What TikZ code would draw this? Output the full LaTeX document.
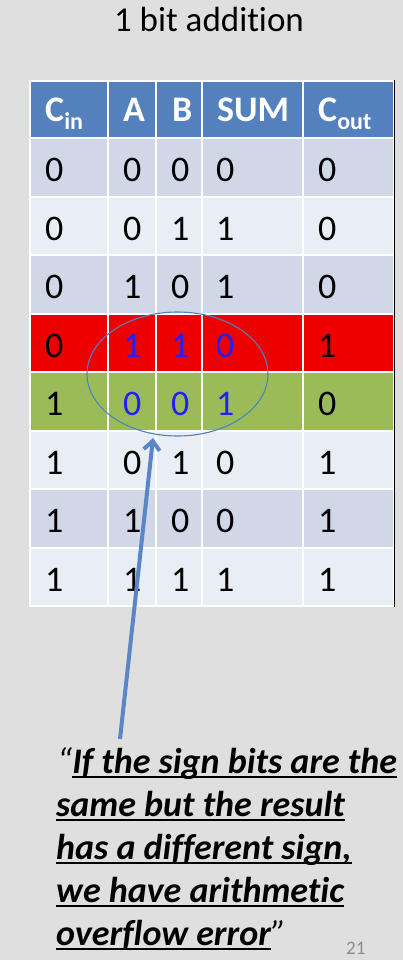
\documentclass[tikz,border=0pt]{standalone}
\usepackage{fontspec}
\setmainfont{Carlito}[Ligatures={NoCommon}]
\usetikzlibrary{arrows.meta,shapes.geometric}
\definecolor{bg}{HTML}{DFDFDF}
\definecolor{hdblue}{HTML}{5580BE}
\definecolor{rowdark}{HTML}{D0D8E8}
\definecolor{rowlight}{HTML}{E9EDF4}
\definecolor{rowred}{HTML}{EE0000}
\definecolor{rowgreen}{HTML}{9BBB59}
\definecolor{digblue}{HTML}{2020FF}
\definecolor{linkblue}{HTML}{5B86C6}
\definecolor{ellblue}{HTML}{4F81BD}
\definecolor{pgnum}{HTML}{8C8C8C}
\newcommand\myul[1]{\setbox0\hbox{#1}\rlap{\rule[-5pt]{\wd0}{2.5pt}}\box0}
\begin{document}
\begin{tikzpicture}[x=1pt,y=-1pt,
  cell/.style={anchor=base west,inner sep=0pt,font=\fontsize{36}{36}\selectfont},
  hd/.style={anchor=base west,inner sep=0pt,text=white,font=\fontsize{36}{36}\selectfont\bfseries},
  quoteline/.style={anchor=base west,inner sep=0pt,font=\fontsize{36}{43}\selectfont\bfseries\itshape},
  subtxt/.style={font=\fontsize{24}{24}\selectfont\bfseries}]
\useasboundingbox (0,0) rectangle (403,960);
\fill[bg] (0,0) rectangle (403,960);
% title
\node[anchor=base,inner sep=0pt,font=\fontsize{35}{35}\selectfont] (title) at (209,32) {1 bit addition};
% table background (white grid)
\fill[white] (29,80) rectangle (395,607);
% header
\foreach \xl/\xr in {30/108,108/156,156/202,202/303,303/394}{
  \fill[hdblue] (\xl+1,82) rectangle (\xr-1,137);
}
\node[hd] (hcin) at (45,122) {C\raisebox{-8pt}{\fontsize{24}{24}\selectfont in}};
\node[hd] (ha) at (123,122) {A};
\node[hd] (hb) at (172,122) {B};
\node[hd] (hsum) at (217,122) {SUM};
\node[hd] (hcout) at (318,122) {C\raisebox{-8pt}{\fontsize{24}{24}\selectfont out}};
% rows
\foreach \r/\fc/\a/\b/\c/\d/\e/\tc in {
  1/rowdark/0/0/0/0/0/black,
  2/rowlight/0/0/1/1/0/black,
  3/rowdark/0/1/0/1/0/black,
  4/rowred/0/1/1/0/1/digblue,
  5/rowgreen/1/0/0/1/0/digblue,
  6/rowlight/1/0/1/0/1/black,
  7/rowdark/1/1/0/0/1/black,
  8/rowlight/1/1/1/1/1/black}{
  \pgfmathsetmacro\yt{138+58.5*(\r-1)}
  \pgfmathsetmacro\yb{\yt+58.5}
  \pgfmathsetmacro\ybase{\yt+43.5}
  \foreach \xl/\xr in {30/108,108/156,156/202,202/303,303/394}{
    \fill[\fc] (\xl+1,\yt+1) rectangle (\xr-1,\yb-1);
  }
  \node[cell] (cin\r) at (45,\ybase) {\a};
  \node[cell,text=\tc] (a\r) at (123,\ybase) {\b};
  \node[cell,text=\tc] (b\r) at (171,\ybase) {\c};
  \node[cell,text=\tc] (s\r) at (216,\ybase) {\d};
  \node[cell] (cout\r) at (318,\ybase) {\e};
}
% right dark edge
\draw[black,line width=1.5pt] (394.5,80) -- (394.5,607);
% ellipse
\node[ellipse,draw=ellblue,line width=1.1pt,minimum width=181pt,minimum height=124pt,inner sep=0pt] (ell) at (177.5,374) {};
% arrow
\coordinate (tail) at (120,739);
\coordinate (tip) at (153,438);
\draw[linkblue,line width=4pt,-{Straight Barb[length=9pt,width=16pt]}] (tail) -- (tip);
% quote
\node[quoteline] (q1) at (57,773) {{\mdseries“}\myul{If the sign bits are the}};
\node[quoteline] (q2) at (56,816) {\myul{same but the result}};
\node[quoteline] (q3) at (56,859) {\myul{has a different sign,}};
\node[quoteline] (q4) at (56,902) {\myul{we have arithmetic}};
\node[quoteline] (q5) at (56,945) {\myul{overflow error}{\mdseries”}};
% page number
\node[anchor=base west,inner sep=0pt,text=pgnum,font=\fontsize{19}{19}\selectfont] (pg) at (346,954) {21};
\end{tikzpicture}
\end{document}
